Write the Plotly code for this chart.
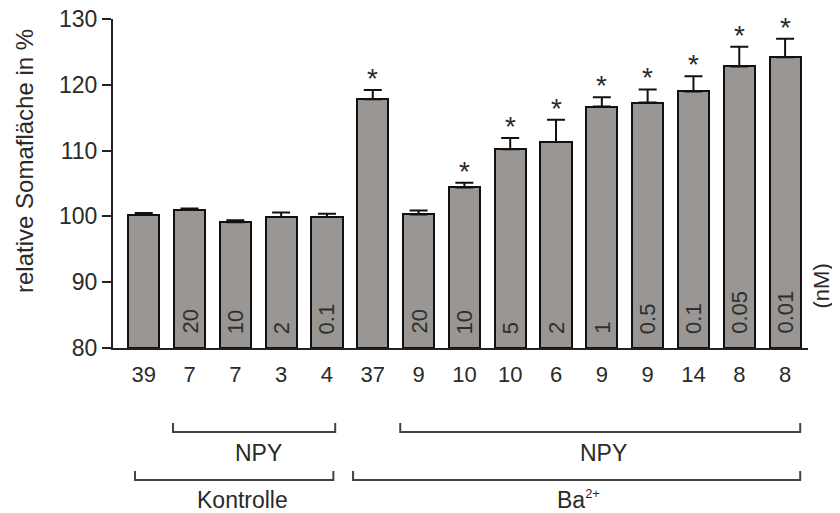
import plotly.graph_objects as go

# Data
n_counts = ["39", "7", "7", "3", "4", "37", "9", "10", "10", "6", "9", "9", "14", "8", "8"]
values = [100.2, 101.0, 99.1, 99.9, 99.9, 117.8, 100.3, 104.4, 110.2, 111.3, 116.7, 117.3, 119.0, 122.8, 124.2]
errors = [0.3, 0.2, 0.3, 0.7, 0.5, 1.4, 0.6, 0.7, 1.7, 3.4, 1.4, 2.0, 2.3, 3.0, 2.8]
conc_labels = ["", "20", "10", "2", "0.1", "", "20", "10", "5", "2", "1", "0.5", "0.1", "0.05", "0.01"]
significant = [False, False, False, False, False, True, False, True, True, True, True, True, True, True, True]
y_ticks = [80, 90, 100, 110, 120, 130]

FONT = "Liberation Sans, Arial, sans-serif"
TXT = "#2a2a2a"
x = list(range(len(values)))

# page body has an 8px margin: work in figure pixels = screen pixels - 8
OFF = 8
W, Hfig = 840 - OFF, 513 - OFF
top, bottom = 19 - OFF, 348 - OFF
left, right = 113 - OFF, 808 - OFF
H = bottom - top


def py(screen_pix):
    return (bottom - (screen_pix - OFF)) / H


fig = go.Figure()
fig.add_trace(go.Bar(
    x=x, y=[v - 80 for v in values], base=80,
    width=0.68,
    marker=dict(color="#999693", line=dict(color="#111111", width=2)),
    error_y=dict(type="data", symmetric=False, array=errors,
                 arrayminus=[0] * len(errors), color="#111111",
                 thickness=2, width=9),
    showlegend=False, hoverinfo="skip",
))

annotations = []
for i, (v, e, s, c) in enumerate(zip(values, errors, significant, conc_labels)):
    if s:
        annotations.append(dict(x=i, y=v + e, xref="x", yref="y", text="*",
                                showarrow=False, yanchor="bottom", yshift=-6,
                                font=dict(family=FONT, size=28, color=TXT)))
    if c:
        annotations.append(dict(x=i, y=80, xref="x", yref="y", text=c,
                                showarrow=False, yanchor="bottom", yshift=12,
                                textangle=-90,
                                font=dict(family=FONT, size=22, color="#2f2f2f")))

# brackets: (x0, x1, y_line_screen, label, label_x, label_y_screen)
brackets = [
    (0.64, 4.18, 432, "NPY", 2.5, 453),
    (5.6, 14.33, 432, "NPY", 10.03, 453),
    (-0.19, 4.14, 480, "Kontrolle", 2.15, 500),
    (4.57, 14.33, 480, "Ba<sup><span style='font-size:13px'>2+</span></sup>", 9.5, 499),
]
shapes = []
for x0, x1, yl, lab, lx, ly in brackets:
    shapes.append(dict(type="path", xref="x", yref="paper",
                       path=f"M {x0},{py(yl - 9)} L {x0},{py(yl)} L {x1},{py(yl)} L {x1},{py(yl - 9)}",
                       line=dict(color="#444444", width=2)))
    annotations.append(dict(x=lx, y=py(ly), xref="x", yref="paper", text=lab,
                            showarrow=False, yanchor="middle",
                            font=dict(family=FONT, size=23, color=TXT)))

annotations.append(dict(x=1, xanchor="center", xshift=13, y=py(311),
                        xref="paper", yref="paper",
                        text="(nM)", showarrow=False, textangle=-90,
                        font=dict(family=FONT, size=22, color=TXT)))

annotations.append(dict(x=0, xanchor="center", xshift=-89, y=py(161),
                        xref="paper", yref="paper",
                        text="relative Somafläche in %", showarrow=False,
                        textangle=-90,
                        font=dict(family=FONT, size=24, color=TXT)))

fig.update_layout(
    width=W, height=Hfig,
    margin=dict(l=left, r=W - right, t=top, b=Hfig - bottom, pad=0),
    plot_bgcolor="white", paper_bgcolor="white",
    bargap=0,
    shapes=shapes, annotations=annotations,
    xaxis=dict(range=[-0.67, 14.5], tickmode="array", tickvals=x, ticktext=n_counts,
               showline=True, linecolor="#222222", linewidth=2, ticks="",
               showgrid=False, zeroline=False, fixedrange=True, automargin=False,
               tickfont=dict(family=FONT, size=22, color=TXT),
               ticklabelstandoff=6),
    yaxis=dict(range=[80, 130], tickvals=y_ticks, showline=True, automargin=False,
               linecolor="#222222", linewidth=2, ticks="outside", ticklen=9,
               tickwidth=2, tickcolor="#222222", showgrid=False, zeroline=False,
               ticklabeloverflow="allow",
               tickfont=dict(family=FONT, size=23, color=TXT)),
)

fig.write_html("out.html")
